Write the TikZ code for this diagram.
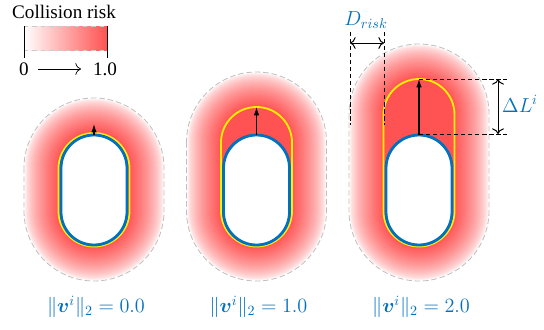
\documentclass[tikz,border=0pt]{standalone}
\usepackage{amsmath,bm}
\usepackage{fontspec}
\setmainfont{Liberation Serif}
\usetikzlibrary{arrows.meta}

\definecolor{riskred}{RGB}{255,82,82}
\definecolor{carblue}{RGB}{0,112,192}
\definecolor{bandyellow}{RGB}{255,240,0}

\tikzset{
    zone/.style={draw=gray!50, dash pattern=on 4pt off 2pt, line width=0.6pt},
    carbody/.style={draw=carblue, fill=white, line width=2pt},
    band/.style={draw=bandyellow, line width=1.3pt},
    dimline/.style={densely dashed, line width=0.5pt},
    measure/.style={{To[length=4pt]}-{To[length=4pt]}, line width=0.7pt},
    annot/.style={text=carblue, inner sep=1pt, font=\fontsize{14}{16}\selectfont},
}

\begin{document}
\begin{tikzpicture}[x=0.025cm, y=-0.025cm]
    % Bounding box = reference image in pixels
    \useasboundingbox (0,0) rectangle (544,329);

    % Colour bar legend
    \node (title) at (64,12) {\fontsize{13.6}{15}\selectfont Collision risk};
    \shade[left color=white, right color=riskred] (24,26) rectangle (107,50);
    \draw[gray!40, dashed, line width=0.5pt] (24,26) -- (107,26) (24,50) -- (107,50);
    \draw[line width=0.5pt] (24,26) -- (24,58) (107,26) -- (107,58);
    \node (zero) at (24,69) {\fontsize{13.6}{15}\selectfont 0};
    \node (one) at (105,69) {\fontsize{13.6}{15}\selectfont 1.0};
    \draw[-{To[length=4pt]}, line width=0.5pt, shorten <=3pt, shorten >=5pt] (zero) -- (one);

    % Three vehicles with growing velocity
    \foreach \cx/\dl/\val [count=\i] in {94/1/0.0, 256.5/27/1.0, 419/55/2.0}{
        \pgfmathsetmacro\yt{134-\dl}
        \pgfmathsetmacro\ytip{min(\yt,124)}

        % Risk field fading from the stretched body to the safety distance
        \foreach \k in {0,...,35}{
            \pgfmathsetmacro\ee{35-\k}
            \pgfmathsetmacro\rr{(70-\k)*0.025}
            \pgfmathtruncatemacro\pct{100*(\k/35)^0.65}
            \fill[riskred!\pct!white, rounded corners=\rr cm]
                (\cx-35-\ee,\yt-\ee) rectangle (\cx+35+\ee,246+\ee);
        }

        % Outer limit of the risk field
        \draw[zone, rounded corners=1.75cm] (\cx-70,\yt-35) rectangle (\cx+70,281);

        % Stretched body (yellow) and real body (blue)
        \draw[band, rounded corners=0.8875cm] (\cx-35.5,\yt) rectangle (\cx+35.5,246.5);
        \draw[carbody, rounded corners=0.825cm] (\cx-33,135) rectangle (\cx+33,245);

        % Velocity arrow
        \coordinate (nose\i) at (\cx,135);
        \coordinate (tip\i) at (\cx,\ytip);
        \draw[-{Latex[length=6pt,width=4pt]}, line width=0.8pt] (nose\i) -- (tip\i);

        \node[annot] (speed\i) at (\cx+2,307) {$\lVert\bm{v}^i\rVert_2=\val$};
    }

    % Safety distance D_risk
    \coordinate (dtopa) at (350,32);
    \coordinate (dbota) at (350,125);
    \coordinate (dtopb) at (384,32);
    \coordinate (dbotb) at (384,125);
    \draw[dimline] (dtopa) -- (dbota) (dtopb) -- (dbotb);
    \draw[measure] (350,43) -- (384,43);
    \node[annot] (drisk) at (366,20) {$D_{risk}$};

    % Stretch length Delta L
    \coordinate (lfrom) at (419,79);
    \coordinate (lto) at (507,79);
    \coordinate (bfrom) at (419,134);
    \coordinate (bto) at (507,134);
    \draw[dimline] (lfrom) -- (lto) (bfrom) -- (bto);
    \draw[measure] (498,79) -- (498,134);
    \node[annot] (dlen) at (520,104) {$\Delta L^i$};
\end{tikzpicture}
\end{document}
